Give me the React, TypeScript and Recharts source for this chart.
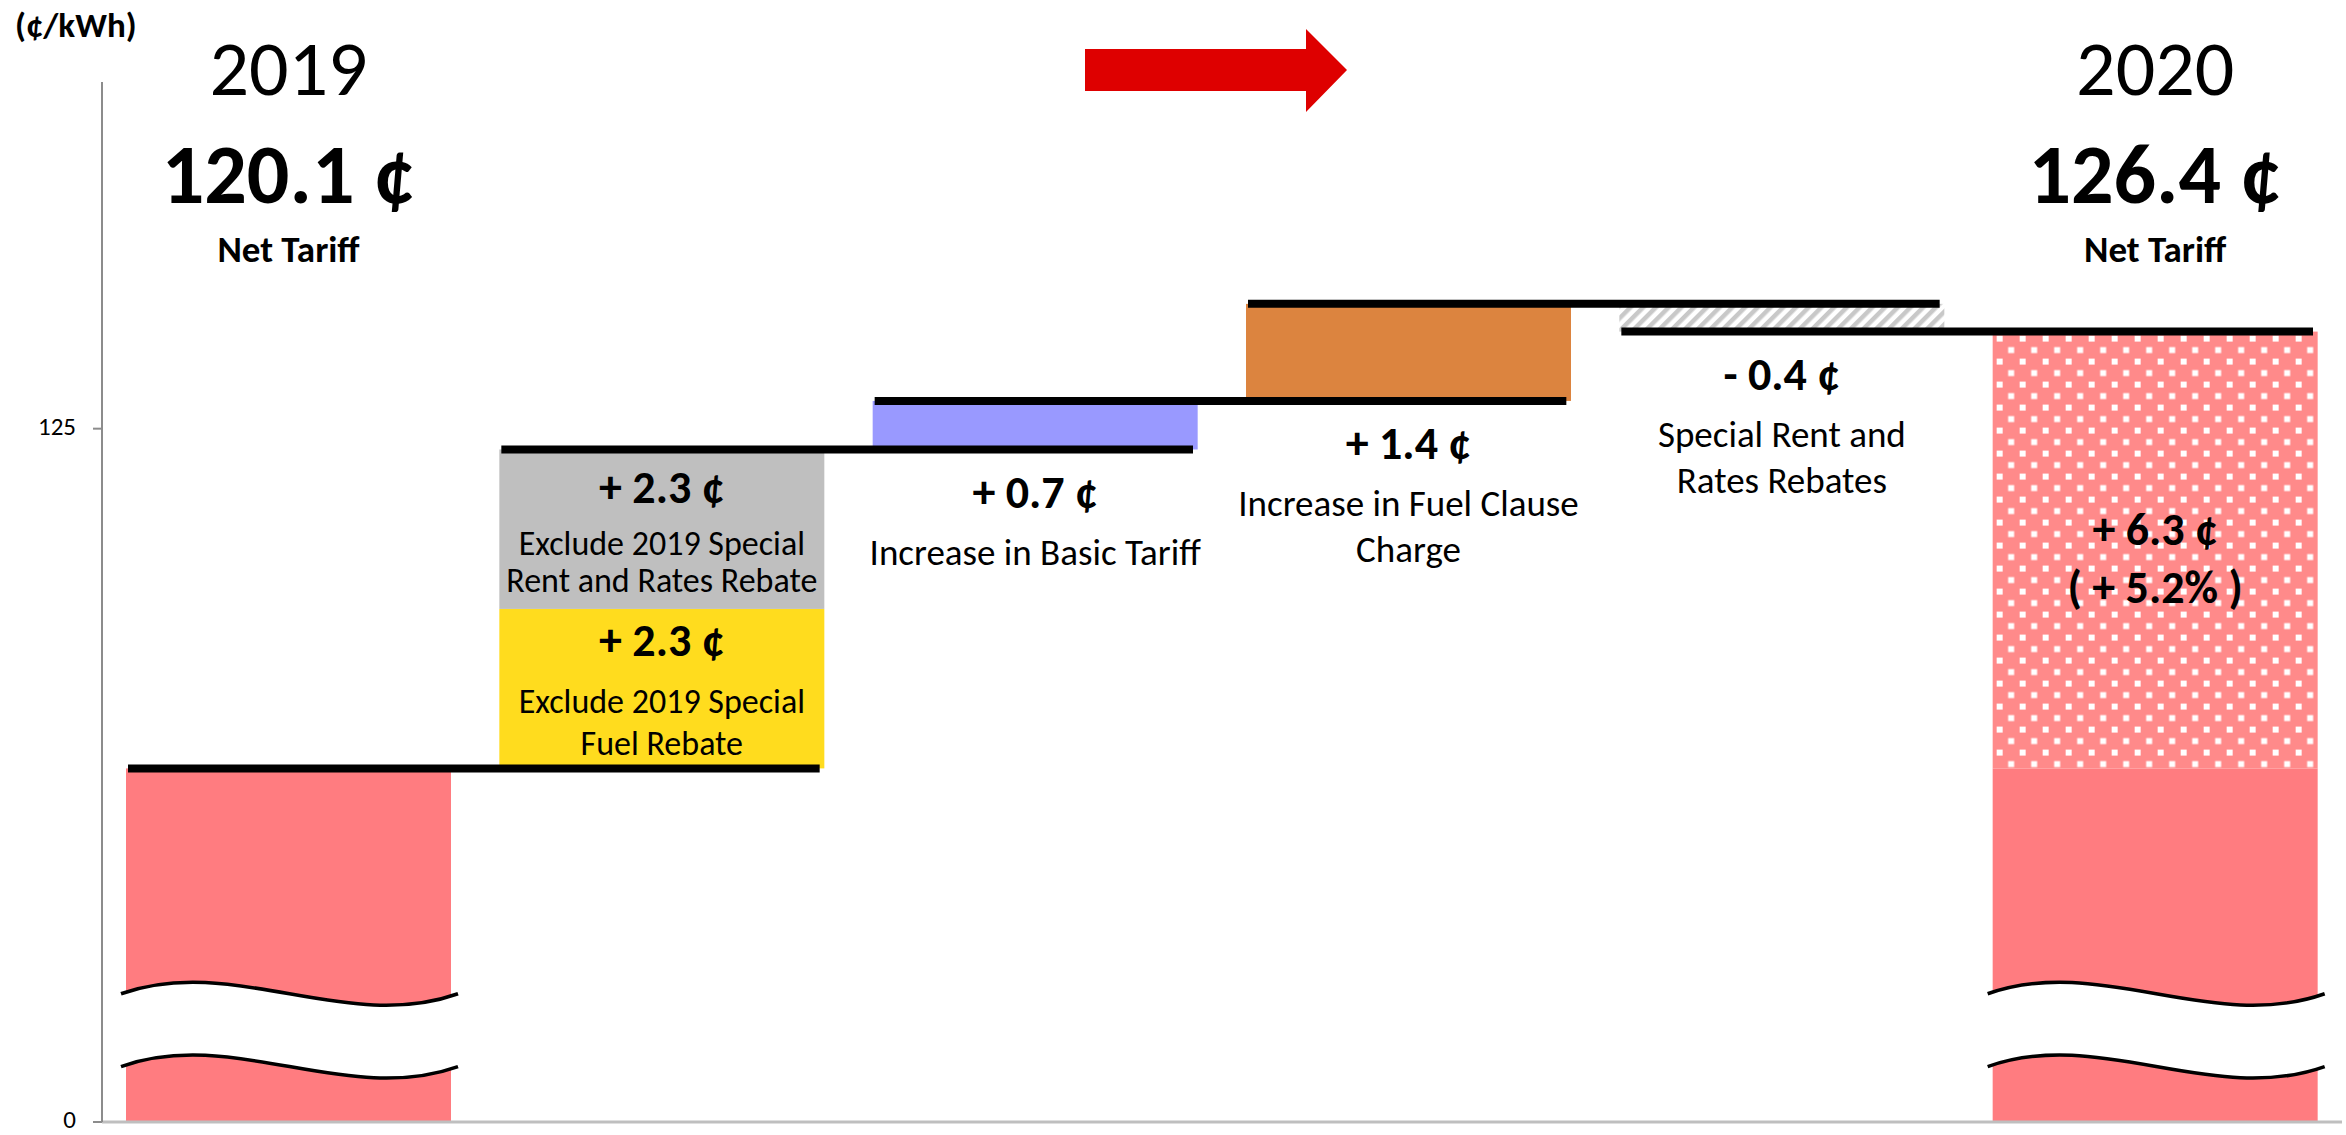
import React from "react";
import { Bar, BarChart, ReferenceLine, XAxis, YAxis } from "recharts";

// bars start at the broken axis floor, shown as "0"
const Y_MIN = 115;
const Y_MAX = 130;

const categories = [
  "2019",
  "Exclude 2019 Special Rebates",
  "Basic Tariff",
  "Fuel Clause Charge",
  "Special Rent and Rates Rebates",
  "2020"
];
const lowerRange: [number, number][] = [
  [Y_MIN, 120.1],
  [120.1, 122.4],
  [124.7, 125.4],
  [125.4, 126.8],
  [126.4, 126.8],
  [Y_MIN, 120.1]
];
const upperRange: ([number, number] | null)[] = [null, [122.4, 124.7], null, null, null, [120.1, 126.4]];
const connectorLevels = [120.1, 124.7, 125.4, 126.8, 126.4];
const yTicks = [Y_MIN, 125];
const breakLevels = [116.85, 115.8];

const yearLabels = ["2019", "", "", "", "", "2020"];
const totalLabels = ["120.1 ¢", "", "", "", "", "126.4 ¢"];
const lowerValueLabels = ["", "+ 2.3 ¢", "+ 0.7 ¢", "+ 1.4 ¢", "- 0.4 ¢", ""];
const lowerNotes = [
  [],
  ["Exclude 2019 Special", "Fuel Rebate"],
  ["Increase in Basic Tariff"],
  ["Increase in Fuel Clause", "Charge"],
  ["Special Rent and", "Rates Rebates"],
  []
];
const upperValueLabels = ["", "+ 2.3 ¢", "", "", "", "+ 6.3 ¢"];
const upperNotes = [[], ["Exclude 2019 Special", "Rent and Rates Rebate"], [], [], [], ["( + 5.2% )"]];

const lowerFills = ["#FF7C80", "#FFDC1E", "#9999FF", "#DC843F", "hatch", "#FF7C80"];
const upperFills = ["", "#BFBFBF", "", "", "", "dots"];

const W = 2346;
const H = 1135;
const MARGIN = { top: 82, right: 4, bottom: 0, left: 42 };
const Y_AXIS_W = 60;
const X_AXIS_H = 13;
const PLOT_W = W - MARGIN.left - Y_AXIS_W - MARGIN.right;
const BAND = PLOT_W / categories.length;
const GAP = 24;
const HALF_BAR = (BAND - 2 * GAP) / 2;

const FONT = 'Carlito, "Liberation Sans Narrow", "Open Sans", sans-serif';
const VALUE_SIZE = 46;
const NOTE_SIZE = 34;
const NOTE_SIZE_BELOW = 37;

const data = categories.map((name, i) => ({ i, name, lower: lowerRange[i], upper: upperRange[i] }));

function Txt({ x, y, size, bold, children }: any) {
  return (
    <text x={x} y={y + size * 0.33} textAnchor="middle" fontFamily={FONT} fontSize={size} fontWeight={bold ? 700 : 400} fill="#000">
      {children}
    </text>
  );
}

function YTick({ x, y, payload }: any) {
  const label = payload.value === Y_MIN ? "0" : String(payload.value);
  return (
    <text x={x} y={y + 6} textAnchor="end" fontFamily={FONT} fontSize={25} fill="#000">
      {label}
    </text>
  );
}

function wave(xl: number, xr: number, c: number, k: number) {
  const w = xr - xl;
  return `M${xl},${c} C${xl + w / 3},${c - k} ${xl + (2 * w) / 3},${c + k} ${xr},${c}`;
}

function LowerShape(props: any) {
  const { x, y, width, height, payload } = props;
  const i = payload.i;
  const [lo, hi] = payload.lower;
  const yOf = (v: number) => y + (height * (hi - v)) / (hi - lo);
  const cx = x + width / 2;
  const bottom = y + height;
  const fill = lowerFills[i];
  const inside = height > 120;

  let breaks = null;
  if (lo === Y_MIN) {
    const xl = x - 5;
    const xr = x + width + 7;
    const w = xr - xl;
    const k = 40;
    const c1 = yOf(breakLevels[0]);
    const c2 = yOf(breakLevels[1]);
    const band =
      wave(xl, xr, c1, k) +
      ` L${xr},${c2} C${xl + (2 * w) / 3},${c2 + k} ${xl + w / 3},${c2 - k} ${xl},${c2} Z`;
    breaks = (
      <g>
        <path d={band} fill="#fff" />
        <path d={wave(xl, xr, c1, k)} fill="none" stroke="#000" strokeWidth={3.5} />
        <path d={wave(xl, xr, c2, k)} fill="none" stroke="#000" strokeWidth={3.5} />
      </g>
    );
  }

  return (
    <g>
      {fill === "hatch" ? (
        <g>
          <defs>
            <pattern id="hatch" patternUnits="userSpaceOnUse" width={9} height={9} patternTransform="rotate(45)">
              <rect x={0} y={0} width={4.5} height={9} fill="#C8C8C8" />
            </pattern>
          </defs>
          <rect x={x} y={y} width={width} height={height} fill="url(#hatch)" />
        </g>
      ) : (
        <rect x={x} y={y} width={width} height={height} fill={fill} />
      )}
      {breaks}
      {yearLabels[i] && (
        <g>
          <text x={cx} y={95} textAnchor="middle" fontFamily={FONT} fontSize={78} fill="#000">
            {yearLabels[i]}
          </text>
          <text x={cx} y={203} textAnchor="middle" fontFamily={FONT} fontSize={84} fontWeight={700} fill="#000">
            {totalLabels[i]}
          </text>
          <text x={cx} y={262} textAnchor="middle" fontFamily={FONT} fontSize={37} fontWeight={700} fill="#000">
            Net Tariff
          </text>
        </g>
      )}
      {lowerValueLabels[i] && (
        <Txt x={cx} y={inside ? y + 32 : bottom + 43} size={VALUE_SIZE} bold>
          {lowerValueLabels[i]}
        </Txt>
      )}
      {lowerNotes[i].map((line, k) =>
        inside ? (
          <Txt key={k} x={cx} y={y + 93 + k * 42} size={NOTE_SIZE}>
            {line}
          </Txt>
        ) : (
          <Txt key={k} x={cx} y={bottom + 103 + k * 46} size={NOTE_SIZE_BELOW}>
            {line}
          </Txt>
        )
      )}
    </g>
  );
}

function UpperShape(props: any) {
  const { x, y, width, height, payload } = props;
  if (!payload || !payload.upper || !(height > 0)) return <g />;
  const i = payload.i;
  const cx = x + width / 2;
  const mid = y + height / 2;
  const centred = height > 300;
  const fill = upperFills[i];
  return (
    <g>
      {fill === "dots" ? (
        <g>
          <defs>
            <pattern id="dots" patternUnits="userSpaceOnUse" x={x} y={y} width={23} height={23}>
              <rect x={0} y={0} width={23} height={23} fill="#FF8A8A" />
              <rect x={4} y={4} width={6} height={6} fill="#fff" />
              <rect x={15.5} y={15.5} width={6} height={6} fill="#fff" />
            </pattern>
          </defs>
          <rect x={x} y={y} width={width} height={height} fill="url(#dots)" />
        </g>
      ) : (
        <rect x={x} y={y} width={width} height={height} fill={fill} />
      )}
      {upperValueLabels[i] && (
        <Txt x={cx} y={centred ? mid - 20 : y + 38} size={VALUE_SIZE} bold>
          {upperValueLabels[i]}
        </Txt>
      )}
      {upperNotes[i].map((line, k) =>
        centred ? (
          <Txt key={k} x={cx} y={mid + 38 + k * 56} size={VALUE_SIZE} bold>
            {line}
          </Txt>
        ) : (
          <Txt key={k} x={cx} y={y + 94 + k * 37} size={NOTE_SIZE}>
            {line}
          </Txt>
        )
      )}
    </g>
  );
}

function ConnectorLine(props: any) {
  const { x1, y1, x2, y2 } = props;
  if (![x1, y1, x2, y2].every((v) => Number.isFinite(v))) return <g />;
  return <line x1={x1 - HALF_BAR + 2} y1={y1} x2={x2 + HALF_BAR - 5} y2={y2} stroke="#000" strokeWidth={8} />;
}

export default function App() {
  return (
    <div style={{ position: "absolute", left: 0, top: 0, width: W, height: H, background: "#fff" }}>
      <BarChart width={W} height={H} data={data} margin={MARGIN} barCategoryGap={GAP}>
        <XAxis
          xAxisId="main"
          dataKey="name"
          height={X_AXIS_H}
          tick={false}
          tickLine={false}
          axisLine={{ stroke: "#BFBFBF", strokeWidth: 3 }}
        />
        <XAxis xAxisId="upper" dataKey="name" hide />
        <YAxis
          type="number"
          domain={[Y_MIN, Y_MAX]}
          ticks={yTicks}
          interval={0}
          width={Y_AXIS_W}
          tickSize={9}
          tickMargin={17}
          tick={YTick}
          axisLine={{ stroke: "#8C8C8C", strokeWidth: 2 }}
          tickLine={{ stroke: "#8C8C8C", strokeWidth: 2 }}
        />
        <Bar xAxisId="main" dataKey="lower" shape={LowerShape} isAnimationActive={false} />
        <Bar xAxisId="upper" dataKey="upper" shape={UpperShape} isAnimationActive={false} />
        {connectorLevels.map((level, i) => (
          <ReferenceLine
            key={i}
            xAxisId="main"
            segment={[
              { x: categories[i], y: level },
              { x: categories[i + 1], y: level }
            ]}
            stroke="#000"
            strokeWidth={8}
            shape={ConnectorLine}
          />
        ))}
      </BarChart>
      <svg width={W} height={H} style={{ position: "absolute", left: 0, top: 0, pointerEvents: "none" }}>
        <text x={15} y={37} fontFamily={FONT} fontSize={35} fontWeight={700} fill="#000">
          (¢/kWh)
        </text>
        <polygon points="1085,49 1306,49 1306,29 1347,70 1306,112 1306,91 1085,91" fill="#DE0000" />
      </svg>
    </div>
  );
}
